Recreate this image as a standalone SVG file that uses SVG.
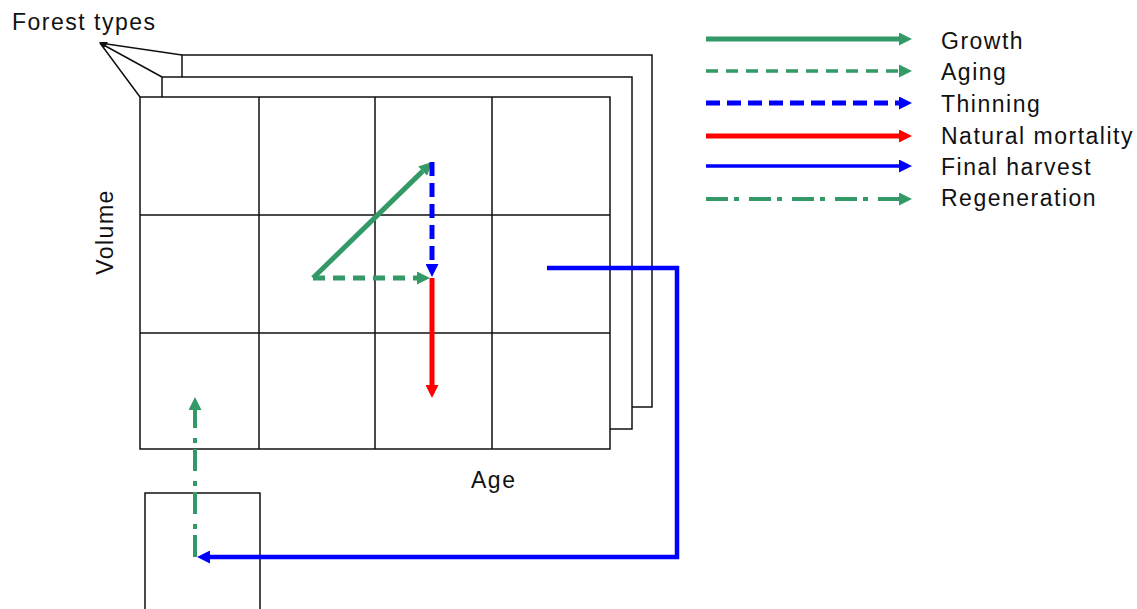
<svg xmlns="http://www.w3.org/2000/svg" width="1137" height="609" viewBox="0 0 1137 609">
<style>
.t{font-family:"Liberation Sans",Arial,sans-serif;font-size:23px;letter-spacing:1.5px;fill:#111}
.box{fill:#fff;stroke:#111;stroke-width:1.5}
.g{stroke:#111;stroke-width:1.5;fill:none}
.growth{stroke:#339966;stroke-width:5;fill:none}
.aging{stroke:#339966;stroke-width:3.5;fill:none;stroke-dasharray:12 8}
.aging2{stroke:#339966;stroke-width:5;fill:none;stroke-dasharray:12 8}
.thin{stroke:#0000ff;stroke-width:5;fill:none;stroke-dasharray:14 7}
.mort{stroke:#ff0000;stroke-width:5;fill:none}
.harv{stroke:#0000ff;stroke-width:3.5;fill:none}
.harv2{stroke:#0000ff;stroke-width:4.5;fill:none}
.regen{stroke:#339966;stroke-width:4;fill:none;stroke-dasharray:22 6 5 10}
</style>
<defs>
<marker id="mg" markerUnits="userSpaceOnUse" viewBox="0 0 13 13" markerWidth="13" markerHeight="13" refX="0" refY="6.5" orient="auto"><path d="M0,0 L13,6.5 L0,13 Z" fill="#339966"/></marker>
<marker id="mb" markerUnits="userSpaceOnUse" viewBox="0 0 13 13" markerWidth="13" markerHeight="13" refX="0" refY="6.5" orient="auto"><path d="M0,0 L13,6.5 L0,13 Z" fill="#0000ff"/></marker>
<marker id="mr" markerUnits="userSpaceOnUse" viewBox="0 0 13 13" markerWidth="13" markerHeight="13" refX="0" refY="6.5" orient="auto"><path d="M0,0 L13,6.5 L0,13 Z" fill="#ff0000"/></marker>
</defs>
<rect width="1137" height="609" fill="#fff"/>

<g id="layer3"><rect class="box" x="182" y="55" width="470" height="352"/></g>
<g id="layer2"><rect class="box" x="162" y="77" width="470" height="352"/></g>
<g id="grid">
<rect class="box" x="140" y="97" width="470" height="352"/>
<path class="g" d="M259,97 V449 M375,97 V449 M492,97 V449 M140,215 H610 M140,333 H610"/>
</g>
<g id="source-box"><path class="g" d="M145,609 V493 H260 V609"/></g>

<g id="labels">
<text class="t" x="12" y="30">Forest types</text>
<text class="t" x="471" y="488">Age</text>
<text class="t" transform="translate(113,232) rotate(-90)" text-anchor="middle">Volume</text>
</g>

<g id="connectors">
<path class="g" d="M182,55 L100,43 M162,77 L100,43 M140,97 L100,43"/>
<path d="M99,42 L108,42 L104,48 Z" fill="#111"/>
<path class="growth" d="M313,278 L422.7,171.1" marker-end="url(#mg)"/>
<path class="thin" d="M432,162 V264" marker-end="url(#mb)"/>
<path class="aging2" d="M313,278 H417" marker-end="url(#mg)"/>
<path class="mort" d="M432,278 V385" marker-end="url(#mr)"/>
<path class="harv2" d="M547,268 H677 V557 H210" marker-end="url(#mb)"/>
<path class="regen" d="M195,557 V410" marker-end="url(#mg)"/>
</g>

<g id="legend">
<path class="growth" d="M706,39 H899" marker-end="url(#mg)"/>
<path class="aging" d="M706,71 H899" marker-end="url(#mg)"/>
<path class="thin" d="M706,103 H899" marker-end="url(#mb)"/>
<path class="mort" d="M706,136 H899" marker-end="url(#mr)"/>
<path class="harv" d="M706,166 H899" marker-end="url(#mb)"/>
<path class="regen" d="M706,199 H899" marker-end="url(#mg)"/>
<text class="t" x="941" y="49">Growth</text>
<text class="t" x="941" y="80">Aging</text>
<text class="t" x="941" y="112">Thinning</text>
<text class="t" x="941" y="144">Natural mortality</text>
<text class="t" x="941" y="175">Final harvest</text>
<text class="t" x="941" y="206">Regeneration</text>
</g>
</svg>
